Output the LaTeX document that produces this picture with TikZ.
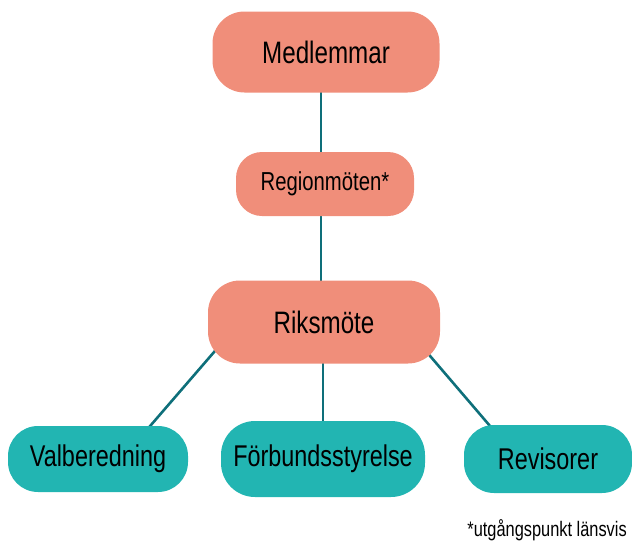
\documentclass[tikz,border=0pt]{standalone}
\usepackage{fontspec}
\setmainfont{Liberation Sans}[FakeStretch=0.78]
\usepackage{xcolor}
\usetikzlibrary{positioning,calc,backgrounds}

\definecolor{salmon}{HTML}{F08E7A}
\definecolor{tealbox}{HTML}{22B5B2}
\definecolor{tealline}{HTML}{0E6F7A}

\tikzset{
    upper/.style={fill=salmon, rounded corners=32pt, inner sep=0pt, font=\fontsize{31}{34}\selectfont},
    lower/.style={fill=tealbox, rounded corners=30pt, inner sep=0pt, font=\fontsize{30}{33}\selectfont},
    link/.style={tealline, line width=2.6pt}
}

\begin{document}
\begin{tikzpicture}[x=1pt, y=-1pt]
    \useasboundingbox (0,0) rectangle (632,544);

    % Top chain
    \node[upper, minimum width=227pt, minimum height=81pt] (medl) at (326,52) {Medlemmar};
    \node[upper, minimum width=178pt, minimum height=64pt, rounded corners=26pt, font=\fontsize{26}{29}\selectfont] (region) at (325,184) {Regionmöten*};
    \node[upper, minimum width=232pt, minimum height=83pt] (riks) at (324,322) {Riksmöte};

    % Bottom row
    \node[lower, minimum width=180pt, minimum height=66pt] (val) at (98,459) {Valberedning};
    \node[lower, minimum width=204pt, minimum height=76pt, rounded corners=34pt] (styr) at (323,459) {Förbundsstyrelse};
    \node[lower, minimum width=168pt, minimum height=68pt] (rev) at (548,459) {Revisorer};

    % Connectors
    \begin{scope}[on background layer]
        \draw[link] ([xshift=-5pt]medl.center) -- ([xshift=-4pt]region.center);
        \draw[link] ([xshift=-4pt]region.center) -- ([xshift=-3pt]riks.center);
        \draw[link] ([shift={(-84,0)}]riks.center) -- ([shift={(34,-12)}]val.center);
        \draw[link] ([xshift=-1pt]riks.center) -- (styr.center);
        \draw[link] ([shift={(77,0)}]riks.center) -- ([shift={(-40,-12)}]rev.center);
    \end{scope}

    % Footnote
    \node[anchor=south east, inner sep=0pt, font=\fontsize{21}{24}\selectfont] (note) at (627,541) {*utgångspunkt länsvis};
\end{tikzpicture}
\end{document}
